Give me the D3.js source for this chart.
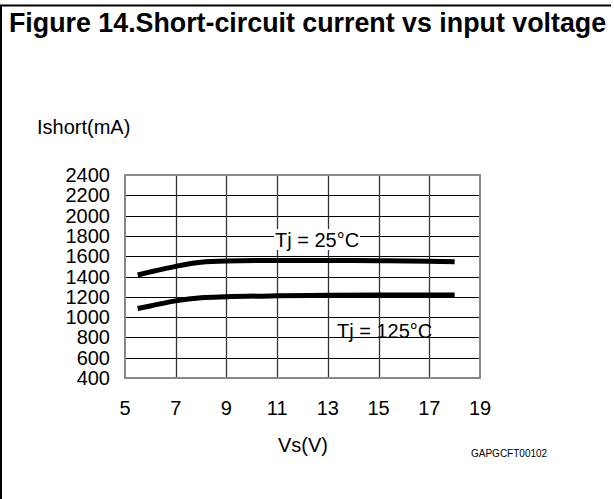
<!DOCTYPE html>
<html>
<head>
<meta charset="utf-8">
<script src="https://cdn.jsdelivr.net/npm/d3@7"></script>
<style>
  body { margin: 0; background: #fff; }
  svg { display: block; font-family: "Liberation Sans", Arial, sans-serif; }
</style>
</head>
<body>
<svg id="chart" width="614" height="499"></svg>
<script>
// data
var vsValues   = [5.5, 6, 7, 8, 9, 11, 13, 15, 17, 18];
var tj25Values = [1415, 1445, 1500, 1540, 1552, 1558, 1558, 1555, 1550, 1545];
var tj125Values = [1085, 1110, 1160, 1190, 1200, 1210, 1215, 1218, 1218, 1218];
var xTicks = [5, 7, 9, 11, 13, 15, 17, 19];
var yTicks = [400, 600, 800, 1000, 1200, 1400, 1600, 1800, 2000, 2200, 2400];

var svg = d3.select("#chart");

// frame: top rule and left rule only
svg.append("line").attr("x1", 0).attr("x2", 611).attr("y1", 5.5).attr("y2", 5.5)
    .attr("stroke", "#000").attr("stroke-width", 2);
svg.append("line").attr("x1", 1).attr("x2", 1).attr("y1", 5).attr("y2", 499)
    .attr("stroke", "#000").attr("stroke-width", 2);

svg.append("text")
    .attr("x", 9).attr("y", 32)
    .style("font-size", "26.8px").style("font-weight", "bold")
    .text("Figure 14.Short-circuit current vs input voltage");

var pLeft = 125, pRight = 480, pTop = 175, pBottom = 378;

var x = d3.scaleLinear().domain([5, 19]).range([pLeft, pRight]);
var y = d3.scaleLinear().domain([400, 2400]).range([pBottom, pTop]);

var g = svg.append("g");

// grid
g.selectAll("line.h").data(yTicks.slice(1, -1)).enter().append("line")
    .attr("x1", pLeft).attr("x2", pRight)
    .attr("y1", function(d) { return Math.round(y(d)) + 0.5; })
    .attr("y2", function(d) { return Math.round(y(d)) + 0.5; })
    .attr("stroke", "#000").attr("stroke-width", 1);

g.selectAll("line.v").data(xTicks.slice(1, -1)).enter().append("line")
    .attr("y1", pTop).attr("y2", pBottom)
    .attr("x1", function(d) { return Math.round(x(d)) + 0.5; })
    .attr("x2", function(d) { return Math.round(x(d)) + 0.5; })
    .attr("stroke", "#333").attr("stroke-width", 1.3);

g.append("rect")
    .attr("x", pLeft).attr("y", pTop)
    .attr("width", pRight - pLeft).attr("height", pBottom - pTop)
    .attr("fill", "none").attr("stroke", "#888").attr("stroke-width", 2);

// tick labels
g.selectAll("text.yt").data(yTicks).enter().append("text")
    .attr("x", 110).attr("y", function(d) { return y(d) + 7; })
    .attr("text-anchor", "end")
    .style("font-size", "20px")
    .text(function(d) { return d; });

g.selectAll("text.xt").data(xTicks).enter().append("text")
    .attr("x", function(d) { return x(d); }).attr("y", 415)
    .attr("text-anchor", "middle")
    .style("font-size", "20px")
    .text(function(d) { return d; });

svg.append("text").attr("x", 37).attr("y", 134)
    .style("font-size", "20px").text("Ishort(mA)");
svg.append("text").attr("x", 303).attr("y", 452).attr("text-anchor", "middle")
    .style("font-size", "20px").text("Vs(V)");
svg.append("text").attr("x", 471).attr("y", 457)
    .style("font-size", "10px").text("GAPGCFT00102");

// curves
var line = d3.line()
    .x(function(d) { return x(d[0]); })
    .y(function(d) { return y(d[1]); })
    .curve(d3.curveMonotoneX);

[tj25Values, tj125Values].forEach(function(vals) {
    g.append("path")
        .datum(vsValues.map(function(v, i) { return [v, vals[i]]; }))
        .attr("d", line)
        .attr("fill", "none")
        .attr("stroke", "#000")
        .attr("stroke-width", 5);
});

// curve labels
var lbl = g.append("g");
lbl.append("rect").attr("x", 274).attr("y", 229).attr("width", 86).attr("height", 21).attr("fill", "#fff");
lbl.append("text").attr("x", 275).attr("y", 247).style("font-size", "20px").text("Tj = 25°C");
g.append("text").attr("x", 337).attr("y", 338).style("font-size", "20px").text("Tj = 125°C");
</script>
</body>
</html>
